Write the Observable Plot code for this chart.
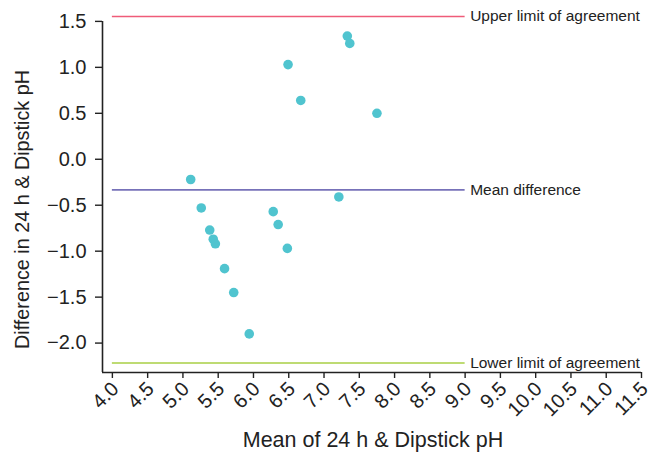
<!DOCTYPE html>
<html>
<head>
<meta charset="utf-8">
<script src="https://cdn.jsdelivr.net/npm/d3@7"></script>
<script src="https://cdn.jsdelivr.net/npm/@observablehq/plot@0.6"></script>
<style>
  html, body { margin: 0; padding: 0; background: #fff; }
  #chart { width: 648px; height: 460px; }
</style>
</head>
<body>
<div id="chart"></div>
<script>
// Data (Bland–Altman plot)
const meanPH = [7.33, 7.365, 6.49, 6.67, 7.75, 5.11, 7.21, 5.26, 5.38, 5.43, 5.46, 5.59, 5.72, 5.94, 6.28, 6.35, 6.48];
const diffPH = [1.34, 1.26, 1.03, 0.64, 0.50, -0.22, -0.41, -0.53, -0.77, -0.87, -0.92, -1.19, -1.45, -1.90, -0.57, -0.71, -0.97];

const limitNames = ["Upper limit of agreement", "Mean difference", "Lower limit of agreement"];
const limitValues = [1.554, -0.333, -2.217];
const limitColors = ["#ef5c79", "#7772b9", "#a8cf45"];
const limitStart = 4.0;
const limitEnd = 9.0;

const xTicks = [4.0, 4.5, 5.0, 5.5, 6.0, 6.5, 7.0, 7.5, 8.0, 8.5, 9.0, 9.5, 10.0, 10.5, 11.0, 11.5];
const yTicks = [-2.0, -1.5, -1.0, -0.5, 0.0, 0.5, 1.0, 1.5];
const xDomain = [3.86, 11.5];
const yDomain = [-2.32, 1.575];

const xTitle = "Mean of 24 h & Dipstick pH";
const yTitle = "Difference in 24 h & Dipstick pH";

const points = meanPH.map((m, i) => ({mean: m, diff: diffPH[i]}));
const limits = limitNames.map((n, i) => ({name: n, value: limitValues[i], color: limitColors[i]}));

const fmt = d3.format(".1f");

const chart = Plot.plot({
  width: 648,
  height: 460,
  marginLeft: 102,
  marginRight: 7,
  marginTop: 14,
  marginBottom: 88,
  style: {fontFamily: "'Liberation Sans', Arial, sans-serif", color: "#222", background: "#fff", overflow: "visible"},
  x: {domain: xDomain},
  y: {domain: yDomain},
  marks: [
    // limit lines
    Plot.ruleY(limits, {y: "value", x1: limitStart, x2: limitEnd, stroke: "color", strokeWidth: 1.6}),
    Plot.text(limits, {y: "value", x: limitEnd, text: "name", textAnchor: "start", dx: 5, fontSize: 15.5, fill: "#222"}),
    // points
    Plot.dot(points, {x: "mean", y: "diff", r: 4.8, fill: "#50c4cf", stroke: "none"}),
    // axes
    Plot.axisY({ticks: yTicks, tickFormat: fmt, tickSize: 7, tickPadding: 9, fontSize: 20, label: null, strokeWidth: 1.4, stroke: "#222"}),
    Plot.axisX({ticks: xTicks, tickFormat: () => "", tickSize: 6, label: null, strokeWidth: 1.4, stroke: "#222"}),
    Plot.axisX({ticks: xTicks, tickFormat: fmt, tickSize: 0, tickPadding: 13, tickRotate: -45, fontSize: 20, label: null, dx: 3, fill: "#222"}),
    // axis lines
    Plot.ruleX([xDomain[0]], {y1: yDomain[0], y2: yTicks[yTicks.length - 1], stroke: "#222", strokeWidth: 1.6}),
    Plot.ruleY([yDomain[0]], {x1: xDomain[0], x2: xDomain[1], stroke: "#222", strokeWidth: 1.6}),
    // titles
    Plot.text([xTitle], {frameAnchor: "bottom", text: d => d, dy: 74, dx: 1, fontSize: 21.5, fill: "#222"}),
    Plot.text([yTitle], {frameAnchor: "left", textAnchor: "middle", text: d => d, rotate: -90, dx: -80, dy: 16, fontSize: 19.8, fill: "#222"})
  ]
});
document.getElementById("chart").appendChild(chart);
</script>
</body>
</html>
